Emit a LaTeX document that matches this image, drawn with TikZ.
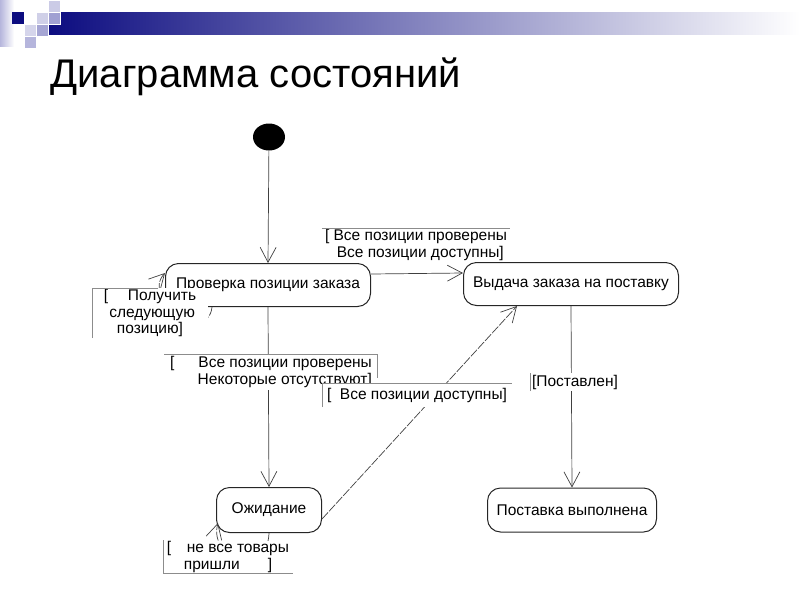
\documentclass[tikz,border=0pt]{standalone}
\usepackage{fontspec}
\setmainfont{Liberation Sans}
\usetikzlibrary{arrows.meta,shapes.geometric}
\definecolor{navy}{RGB}{12,12,128}
\definecolor{lav}{RGB}{150,150,205}
\tikzset{
  state/.style={draw=black!85, line width=1pt, rounded corners=13pt, minimum height=43pt,
    inner sep=0pt, font=\fontsize{15.5}{17}\selectfont},
  trans/.style={draw=black!75, line width=0.7pt, -{Straight Barb[length=15pt,width=16pt]}},
  loopy/.style={trans, dash pattern=on 9pt off 1.5pt},
  guard/.style={fill=white, inner sep=0pt, align=center, font=\fontsize{15.5}{16.5}\selectfont},
  frame/.style={draw=black!45, line width=0.6pt},
  tile/.style={draw=white, line width=0.5pt}
}
\begin{document}
\begin{tikzpicture}[x=1pt,y=-1pt]
\useasboundingbox (0,0) rectangle (800,600);

\shade[left color=lav!70, right color=white] (0,0) rectangle (14,46);
\shade[left color=navy, right color=white] (48,12) rectangle (800,34);
\fill[navy] (12,12) rectangle (24,24);
\filldraw[tile, fill=lav!45] (36,12) rectangle (48,24);
\filldraw[tile, fill=lav!50] (48,0) rectangle (60,12);
\filldraw[tile, fill=lav!90] (48,12) rectangle (60,24);
\filldraw[tile, fill=lav!40] (24,24) rectangle (36,36);
\filldraw[tile, fill=lav!85] (36,24) rectangle (48,36);
\filldraw[tile, fill=lav!70] (24,36) rectangle (36,48);

\node[anchor=base west, font=\fontsize{40}{42}\selectfont] (title) at (47,87) {Диаграмма состояний};

\node[ellipse, fill=black, minimum width=32pt, minimum height=27pt, inner sep=0pt] (start) at (269,137) {};
\node[state, minimum width=205pt] (check) at (268,285) {Проверка позиции заказа};
\node[state, minimum width=215pt] (issue) at (571,284) {Выдача заказа на поставку};
\node[state, minimum width=105pt, minimum height=45pt] (wait) at (269,510) {Ожидание};
\node[state, minimum width=169pt, minimum height=44pt] (done) at (572,510) {Поставка выполнена};

\draw[trans] (start) -- (check.north);
\draw[trans] ([yshift=11pt]check.east) -- ([yshift=11pt]issue.west);
\draw[trans] (check.south) -- (wait.north);
\draw[trans] (issue.south) -- (done.north);
\draw[loopy] ([yshift=-9pt]wait.east) -- ([xshift=-54pt]issue.south);
\draw[loopy] ([xshift=-56pt]check.south) .. controls (208,345) and (140,300) .. ([yshift=12pt]check.west);
\draw[loopy] (wait.south) .. controls (268,575) and (208,560) .. ([xshift=2pt,yshift=10pt]wait.south west);

\node[guard, minimum width=188pt, minimum height=34pt] (g1) at (416,245)
  {[ Все позиции проверены\\ \ \ Все позиции доступны]};
\draw[frame] (g1.north west) -- (g1.north east);

\node[guard, minimum width=115pt, minimum height=50pt] (g2) at (150,313)
  {[\quad\ Получить\\ \ следующую\\ позицию]};
\draw[frame] (g2.south west) -- (g2.north west) -- ([xshift=-50pt]g2.north east);

\node[guard, align=right, minimum width=213pt, minimum height=35pt] (g3) at (271,372)
  {[\hspace{24pt}Все позиции проверены\\ Некоторые отсутствуют]};
\draw[frame] (g3.north west) -- (g3.north east) -- ([yshift=12pt]g3.south east);

\node[guard, minimum width=190pt, minimum height=24pt] (g4) at (417,395)
  {[\ \ Все позиции доступны]};
\draw[frame] (g4.south west) -- (g4.north west) -- (g4.north east);

\node[guard, minimum width=90pt, minimum height=18pt] (g5) at (575,382) {[Поставлен]};
\draw[frame] (g5.south west) -- (g5.north west);

\node[guard, minimum width=129pt, minimum height=33pt] (g6) at (228,557)
  {[\quad не все товары\\ пришли\hspace{28pt}]};
\draw[frame] (g6.north west) -- (g6.south west) -- (g6.south east);
\end{tikzpicture}
\end{document}
